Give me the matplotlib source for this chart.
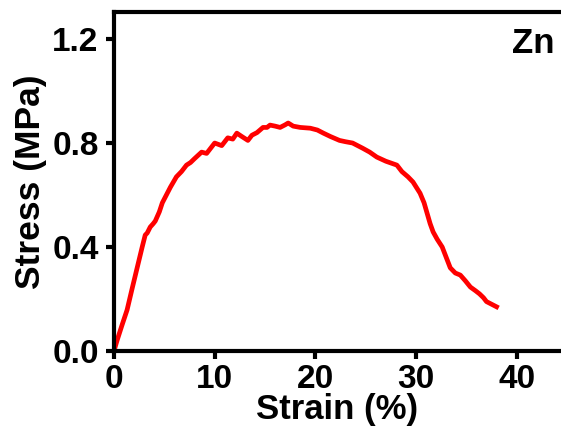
import matplotlib
matplotlib.use("Agg")
import matplotlib.pyplot as plt

# stress-strain curve
strain = [0.0, 0.3, 0.8, 1.3, 1.8, 2.3, 2.8, 3.1, 3.3, 3.6, 3.9, 4.1, 4.5, 4.8,
          5.2, 5.6, 6.2, 6.7, 7.2, 7.6, 8.0, 8.7, 9.2, 9.6, 10.0, 10.7, 11.3,
          11.8, 12.2, 12.7, 13.3, 13.7, 14.2, 14.8, 15.2, 15.5, 16.0, 16.5,
          17.0, 17.3, 17.8, 18.5, 19.5, 20.2, 20.8, 21.5, 22.4, 23.0, 23.7,
          24.2, 24.7, 25.4, 26.1, 27.0, 28.1, 28.6, 29.2, 29.7, 30.4, 30.8,
          31.1, 31.4, 31.7, 32.1, 32.6, 33.0, 33.4, 33.9, 34.4, 34.9, 35.4,
          35.9, 36.3, 36.7, 37.0, 37.5, 38.0]
stress = [0.0, 0.04, 0.10, 0.158, 0.24, 0.32, 0.40, 0.446, 0.454, 0.477, 0.49,
          0.50, 0.535, 0.57, 0.60, 0.63, 0.67, 0.69, 0.715, 0.725, 0.74, 0.765,
          0.76, 0.78, 0.80, 0.79, 0.82, 0.815, 0.838, 0.825, 0.81, 0.83, 0.84,
          0.86, 0.86, 0.869, 0.865, 0.86, 0.87, 0.877, 0.865, 0.86, 0.857,
          0.85, 0.838, 0.825, 0.81, 0.805, 0.80, 0.79, 0.78, 0.765, 0.746,
          0.73, 0.715, 0.69, 0.67, 0.65, 0.607, 0.57, 0.53, 0.49, 0.458, 0.43,
          0.40, 0.36, 0.32, 0.30, 0.292, 0.27, 0.246, 0.232, 0.22, 0.205, 0.19,
          0.18, 0.17]

x_ticks = [0, 10, 20, 30, 40]
y_ticks = [0.0, 0.4, 0.8, 1.2]
y_tick_labels = ["0.0", "0.4", "0.8", "1.2"]

plt.rcParams["font.family"] = ["Liberation Sans", "DejaVu Sans"]
plt.rcParams["font.weight"] = "bold"

fig = plt.figure(figsize=(5.61, 4.33), dpi=100)
ax = fig.add_axes([114 / 561, 82 / 433, 1 - 114 / 561, (351 - 12) / 433])

ax.plot(strain, stress, color="#ff0000", lw=3.4)

ax.set_xlim(0, 44.4)
ax.set_ylim(0, 1.304)
ax.set_xticks(x_ticks)
ax.set_yticks(y_ticks)
ax.set_yticklabels(y_tick_labels)

ax.spines["right"].set_visible(False)
for s in ["left", "bottom", "top"]:
    ax.spines[s].set_linewidth(3)
ax.tick_params(width=3, length=6, labelsize=24)
ax.tick_params(axis="y", pad=5)
ax.tick_params(axis="x", pad=3)

ax.set_xlabel("Strain (%)", fontsize=25, fontweight="bold", labelpad=-1)
ax.set_ylabel("Stress (MPa)", fontsize=25.5, fontweight="bold", labelpad=4)

ax.text(0.985, 0.955, "Zn", transform=ax.transAxes, ha="right", va="top",
        fontsize=25, fontweight="bold")

fig.savefig("out.png", dpi=100)
